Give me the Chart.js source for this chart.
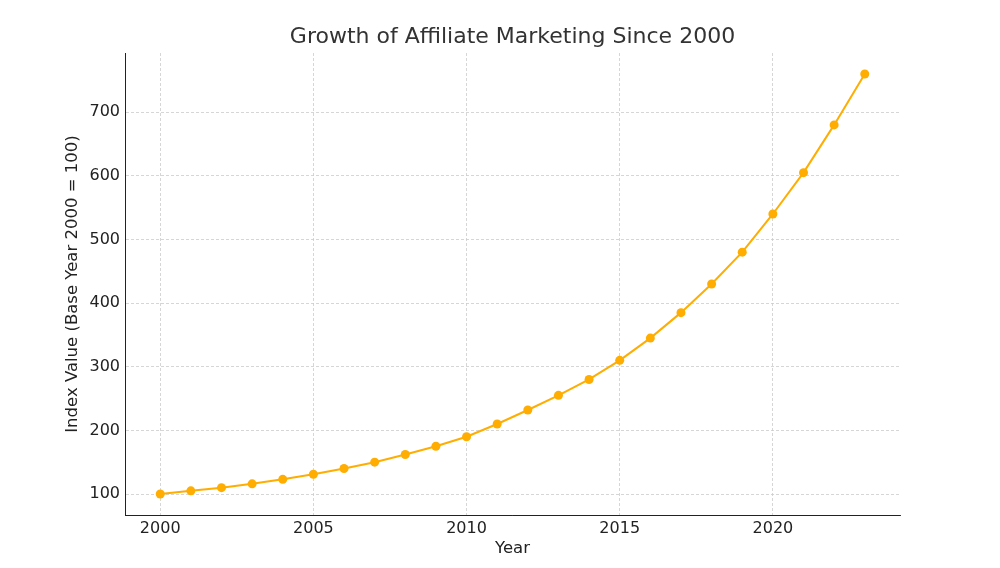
<!DOCTYPE html>
<html>
<head>
<meta charset="utf-8">
<script src="https://cdn.jsdelivr.net/npm/chart.js@4/dist/chart.umd.min.js"></script>
<style>
  html, body { margin: 0; padding: 0; background: #fff; }
  #wrap { width: 1000px; height: 568px; }
</style>
</head>
<body>
<div id="wrap"><canvas id="grafico" width="1000" height="568"></canvas></div>
<script>
const anios = [2000, 2001, 2002, 2003, 2004, 2005, 2006, 2007, 2008, 2009, 2010, 2011,
               2012, 2013, 2014, 2015, 2016, 2017, 2018, 2019, 2020, 2021, 2022, 2023];
const indice = [100, 105, 110, 116, 123, 131, 140, 150, 162, 175, 190, 210,
                232, 255, 280, 310, 345, 385, 430, 480, 540, 605, 680, 760];
const ticksX = [2000, 2005, 2010, 2015, 2020];
const ticksY = [100, 200, 300, 400, 500, 600, 700];

const titulo = 'Growth of Affiliate Marketing Since 2000';
const tituloX = 'Year';
const tituloY = 'Index Value (Base Year 2000 = 100)';

const fuente = 'DejaVu Sans, sans-serif';
const naranja = '#ffad00';

// textos dibujados a mano para controlar la posicion
const textos = {
    id: 'textos',
    afterDraw(chart) {
        const ctx = chart.ctx;
        const a = chart.chartArea;
        ctx.save();
        ctx.fillStyle = '#333';
        ctx.textAlign = 'center';
        ctx.textBaseline = 'middle';
        ctx.font = '22px ' + fuente;
        ctx.fillText(titulo, (a.left + a.right) / 2, 37);
        ctx.fillStyle = '#222';
        ctx.font = '16.5px ' + fuente;
        ctx.fillText(tituloX, (a.left + a.right) / 2, 549);
        ctx.translate(73, (a.top + a.bottom) / 2);
        ctx.rotate(-Math.PI / 2);
        ctx.fillText(tituloY, 0, 0);
        ctx.restore();
    }
};

const rango = (arr) => {
    const min = Math.min(...arr), max = Math.max(...arr);
    const m = (max - min) * 0.05;
    return [min - m, max + m];
};
const [xMin, xMax] = rango(anios);
const [yMin, yMax] = rango(indice);

const grid = (largo) => ({
    color: '#cccccc',
    lineWidth: 0.8,
    drawTicks: true,
    tickLength: largo,
    tickColor: 'rgba(0,0,0,0)'
});
const borde = { display: true, color: '#222', width: 1, dash: [3, 2] };

new Chart(document.getElementById('grafico').getContext('2d'), {
    type: 'line',
    data: {
        datasets: [{
            data: anios.map((x, i) => ({ x: x, y: indice[i] })),
            borderColor: naranja,
            backgroundColor: naranja,
            borderWidth: 2,
            pointRadius: 4.5,
            pointHoverRadius: 4.5,
            pointBorderWidth: 0,
            tension: 0
        }]
    },
    options: {
        responsive: false,
        animation: false,
        events: [],
        layout: { padding: { top: 53, right: 100, left: 0, bottom: 0 } },
        plugins: { legend: { display: false }, title: { display: false }, tooltip: { enabled: false } },
        scales: {
            x: {
                type: 'linear',
                min: xMin,
                max: xMax,
                afterBuildTicks: (s) => { s.ticks = ticksX.map(v => ({ value: v })); },
                afterFit: (s) => { s.height = 53; },
                grid: grid(1),
                border: borde,
                ticks: {
                    color: '#222',
                    font: { family: fuente, size: 16 },
                    padding: 3,
                    maxRotation: 0,
                    callback: (v) => String(v)
                }
            },
            y: {
                type: 'linear',
                min: yMin,
                max: yMax,
                afterBuildTicks: (s) => { s.ticks = ticksY.map(v => ({ value: v })); },
                afterFit: (s) => { s.width = 125; },
                grid: grid(2),
                border: borde,
                ticks: {
                    color: '#222',
                    font: { family: fuente, size: 16 },
                    padding: 3,
                    callback: (v) => String(v)
                }
            }
        }
    },
    plugins: [textos]
});
</script>
</body>
</html>
